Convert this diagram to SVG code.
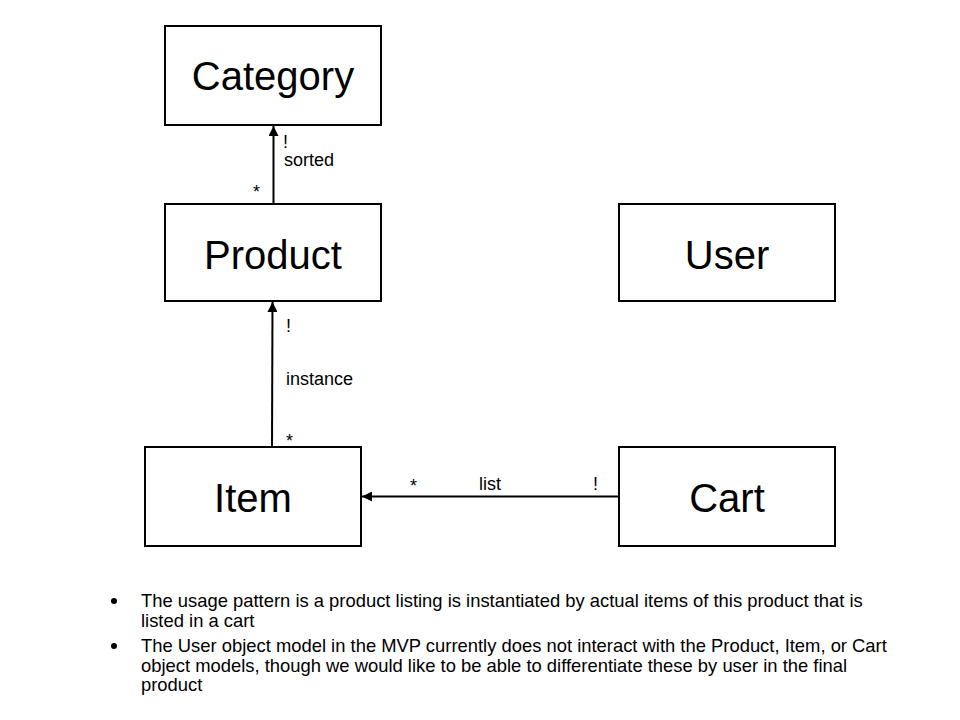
<svg xmlns="http://www.w3.org/2000/svg" width="960" height="720" viewBox="0 0 960 720">
<style>
.box{fill:#fff;stroke:#000;stroke-width:2}
.nt{font-family:"Liberation Sans",Arial,sans-serif;font-size:40px;text-anchor:middle;fill:#000}
.lb{font-family:"Liberation Sans",Arial,sans-serif;font-size:18px;fill:#000}
.bt{font-family:"Liberation Sans",Arial,sans-serif;font-size:18.4px;fill:#000}
.ln{stroke:#000;stroke-width:2;fill:none;marker-end:url(#ah)}
</style>
<defs>
<marker id="ah" viewBox="0 0 10 10" refX="10" refY="5" markerWidth="5.5" markerHeight="5" orient="auto" markerUnits="strokeWidth">
<path d="M0,0 L10,5 L0,10 z" fill="#000"/>
</marker>
</defs>
<rect width="960" height="720" fill="#fff"/>
<g id="connectors">
<line class="ln" x1="273.5" y1="204" x2="273.5" y2="126"/>
<line class="ln" x1="272" y1="447" x2="272.5" y2="302"/>
<line class="ln" x1="619" y1="496.5" x2="362" y2="496.5"/>
<text class="lb" x="283" y="148">!</text>
<text class="lb" x="284" y="166">sorted</text>
<text class="lb" x="253" y="198">*</text>
<text class="lb" x="286" y="332">!</text>
<text class="lb" x="286" y="385">instance</text>
<text class="lb" x="286" y="447">*</text>
<text class="lb" x="410" y="492">*</text>
<text class="lb" x="479" y="490">list</text>
<text class="lb" x="593" y="490">!</text>
</g>
<g id="category"><rect class="box" x="165" y="26" width="216" height="99"/><text class="nt" x="273" y="90">Category</text></g>
<g id="product"><rect class="box" x="165" y="204" width="216" height="97"/><text class="nt" x="273" y="269">Product</text></g>
<g id="user"><rect class="box" x="619" y="204" width="216" height="97"/><text class="nt" x="727" y="269">User</text></g>
<g id="item"><rect class="box" x="145" y="447" width="216" height="99"/><text class="nt" x="253" y="512">Item</text></g>
<g id="cart"><rect class="box" x="619" y="447" width="216" height="99"/><text class="nt" x="727" y="512">Cart</text></g>
<g id="notes">
<circle cx="114" cy="601" r="3" fill="#000"/>
<text class="bt" x="141" y="607">The usage pattern is a product listing is instantiated by actual items of this product that is</text>
<text class="bt" x="141" y="627">listed in a cart</text>
<circle cx="114" cy="646" r="3" fill="#000"/>
<text class="bt" x="141" y="652">The User object model in the MVP currently does not interact with the Product, Item, or Cart</text>
<text class="bt" x="141" y="672">object models, though we would like to be able to differentiate these by user in the final</text>
<text class="bt" x="141" y="691">product</text>
</g>
</svg>
